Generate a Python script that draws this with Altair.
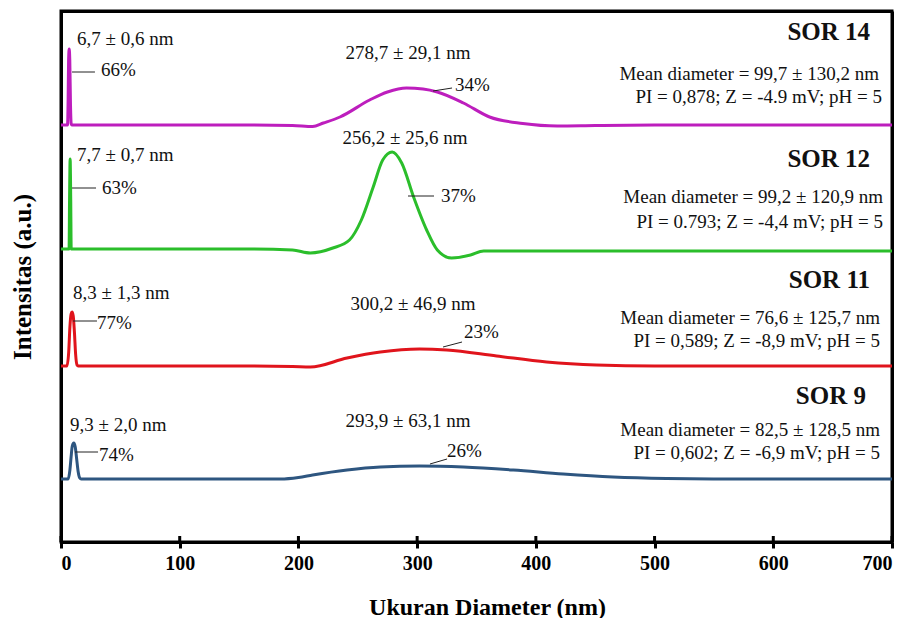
import altair as alt
import pandas as pd

# ---------------- data ----------------
x_ticks = [0, 100, 200, 300, 400, 500, 600, 700]

series_names = ["SOR 14", "SOR 12", "SOR 11", "SOR 9"]
series_colors = ["#BD1EBD", "#2BBE2B", "#E0141C", "#2E5680"]

sor14_x = [0, 5.5, 6.0, 6.4, 6.9, 7.4, 8.0, 8.6, 9.0, 150, 195, 212, 221, 235, 260, 275, 291, 305, 317, 339, 361, 389, 418, 450, 500, 700]
sor14_y = [417, 417, 442, 482, 493, 482, 437, 418, 417, 417, 416.5, 415.5, 419, 425, 442, 450, 454, 453, 450, 439, 425, 418.5, 416, 416.5, 417, 417]

sor12_x = [0, 6.8, 7.2, 7.7, 8.2, 8.6, 150, 195, 210, 229, 243, 253, 263, 271, 279, 287, 297, 308, 317, 329, 345, 356, 450, 700]
sor12_y = [293, 293, 342, 383, 342, 293, 293, 292, 289, 294, 302, 322, 355, 382, 390, 379, 345, 312, 292, 284, 287, 291, 291, 291]

sor11_x = [0, 5.0, 6.5, 7.5, 8.5, 9.3, 10.3, 11.3, 12.3, 13.5, 14.5, 150, 195, 210, 241, 269, 302, 325, 367, 409, 451, 500, 700]
sor11_y = [176, 176, 190, 215, 228, 230, 226, 210, 188, 177, 176, 176, 175.5, 175, 184, 190, 193, 192, 186, 180, 177, 176, 176]

sor9_x = [0, 6.0, 7.5, 8.5, 9.5, 10.8, 12.0, 13.2, 14.5, 15.8, 17.0, 185, 200, 212, 241, 269, 302, 339, 381, 423, 465, 510, 560, 700]
sor9_y = [63, 63, 72, 85, 96, 99, 95, 83, 70, 64, 63, 63, 64.5, 67, 72, 75, 76, 75, 72, 68, 65, 63.5, 63, 63]

# annotations
left_text = ["6,7 ± 0,6 nm", "66%", "7,7 ± 0,7 nm", "63%", "8,3 ± 1,3 nm", "77%", "9,3 ± 2,0 nm", "74%",
             "34%", "37%", "23%", "26%"]
left_x = [13.5, 33.7, 13.5, 34.5, 10.1, 30.3, 7.6, 32.0, 331.9, 320.1, 339.5, 325.2]
left_y = [503, 472, 387, 354, 249, 219, 117, 87, 457, 346, 210, 91]

center_text = ["278,7 ± 29,1 nm", "256,2 ± 25,6 nm", "300,2 ± 46,9 nm", "293,9 ± 63,1 nm"]
center_x = [292.3, 289.8, 296.5, 292.3]
center_y = [489, 404, 238, 121]

right_text = ["Mean diameter = 99,7 ± 130,2 nm", "PI = 0,878;  Z = -4.9 mV;  pH = 5",
              "Mean  diameter = 99,2 ± 120,9 nm", "PI = 0.793;  Z = -4,4 mV;  pH = 5",
              "Mean diameter = 76,6 ± 125,7 nm", "PI = 0,589;  Z = -8,9 mV;  pH = 5",
              "Mean diameter = 82,5 ± 128,5 nm", "PI = 0,602;  Z = -6,9 mV;  pH = 5"]
right_x = [689.1, 691.6, 692.4, 692.4, 689.9, 689.9, 689.9, 689.9]
right_y = [468, 445, 345, 320, 224, 201, 112, 89]

title_text = ["SOR 14", "SOR 12", "SOR 11", "SOR 9"]
title_x = [681.5, 681.5, 681.5, 678.1]
title_y = [510, 383, 262, 146]

lead_x = [9.3, 9.3, 10.1, 11.8, 313.4, 292.3, 321.8, 310.8]
lead_x2 = [28.6, 29.5, 30.3, 31.2, 329.4, 314.2, 337.8, 325.2]
lead_y = [470, 354, 221, 90, 451, 346, 195, 78]
lead_y2 = [470, 354, 221, 90, 454, 346, 200, 83]

# ---------------- build tables ----------------
rows = []
for name, xv_list, yv_list in zip(series_names, [sor14_x, sor12_x, sor11_x, sor9_x],
                                  [sor14_y, sor12_y, sor11_y, sor9_y]):
    for xv, yv in zip(xv_list, yv_list):
        rows.append({"series": name, "d": xv, "i": yv})
df = pd.DataFrame(rows)

FONT = "Liberation Serif"
W, H = 831, 531
X_MAX, Y_MAX = 700, 531

left_df = pd.DataFrame({"t": left_text, "d": left_x, "i": left_y})
center_df = pd.DataFrame({"t": center_text, "d": center_x, "i": center_y})
right_df = pd.DataFrame({"t": right_text, "d": right_x, "i": right_y})
title_df = pd.DataFrame({"t": title_text, "d": title_x, "i": title_y})
lead_df = pd.DataFrame({"d": lead_x, "d2": lead_x2, "i": lead_y, "i2": lead_y2})
tick_df = pd.DataFrame({"d": x_ticks, "d2": x_ticks, "i": [0] * len(x_ticks), "i2": [6] * len(x_ticks)})

xs = alt.Scale(domain=[0, X_MAX], nice=False, zero=False)
ys = alt.Scale(domain=[0, Y_MAX], nice=False, zero=False)

axis_common = dict(domainColor="black", domainWidth=3, grid=False, titleFont=FONT,
                   titleFontWeight="bold", titleColor="black")
x_axis = alt.Axis(
    values=x_ticks, format="d",
    labelFont=FONT, labelFontSize=20, labelFontWeight="bold", labelColor="black",
    labelPadding=5, tickSize=6, tickWidth=3, tickColor="black",
    titleFontSize=24, titleX=426, titleY=65, titleBaseline="middle", titleAlign="center",
    **axis_common)
y_axis = alt.Axis(
    labels=False, ticks=False,
    titleFontSize=25, titleAngle=270, titleX=-39, titleY=265.5, titleAlign="center",
    titleBaseline="middle", **axis_common)
# top and right edges of the box: mirrored axes with no ticks or labels
x_top = alt.Axis(orient="top", labels=False, ticks=False, title=None, **axis_common)
y_right = alt.Axis(orient="right", labels=False, ticks=False, title=None, **axis_common)

X = alt.X("d:Q", scale=xs, axis=x_axis, title="Ukuran Diameter (nm)")
Y = alt.Y("i:Q", scale=ys, axis=y_axis, title="Intensitas (a.u.)")

lines = alt.Chart(df).mark_line(strokeWidth=3, interpolate="monotone").encode(
    x=X, y=Y,
    color=alt.Color("series:N", scale=alt.Scale(domain=series_names, range=series_colors), legend=None),
    detail="series:N",
)

inner_ticks = alt.Chart(tick_df).mark_rule(color="black", strokeWidth=3).encode(
    x=X, x2="d2:Q", y=Y, y2="i2:Q")

leaders = alt.Chart(lead_df).mark_rule(color="#222", strokeWidth=1).encode(
    x=X, x2="d2:Q", y=Y, y2="i2:Q")


def txt(data, align, size, weight="normal"):
    return alt.Chart(data).mark_text(align=align, baseline="middle", font=FONT, fontSize=size,
                                     fontWeight=weight, color="#111").encode(
        x=X, y=Y, text="t:N")


base = alt.layer(
    lines, inner_ticks, leaders,
    txt(left_df, "left", 19), txt(center_df, "center", 19), txt(right_df, "right", 19),
    txt(title_df, "right", 25, "bold"),
)

box = alt.Chart(tick_df).mark_point(opacity=0).encode(
    x=alt.X("d:Q", scale=xs, axis=x_top),
    y=alt.Y("i:Q", scale=ys, axis=y_right),
)

chart = alt.layer(base, box).resolve_axis(x="independent", y="independent").properties(
    width=W, height=H,
    padding={"left": 53, "top": 3, "right": 10, "bottom": 76},
    autosize=alt.AutoSizeParams(type="none"),
    background="white",
).configure_view(stroke="black", strokeWidth=3)

chart.save("out.html", embed_options={"renderer": "svg", "actions": False})
